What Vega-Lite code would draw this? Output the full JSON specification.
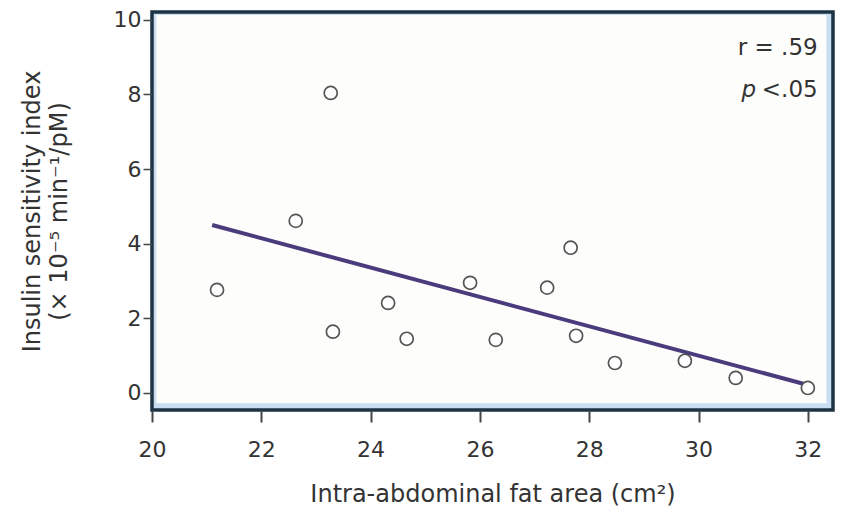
{
  "$schema": "https://vega.github.io/schema/vega-lite/v6.json",
  "width": 681,
  "height": 398,
  "autosize": "none",
  "padding": {"left": 152, "top": 12, "right": 22, "bottom": 100},
  "background": "white",
  "config": {
    "font": "DejaVu Sans",
    "view": {"stroke": "#1c3344", "strokeWidth": 3.5, "fill": "#c9def0"},
    "axis": {"grid": false, "domain": false, "labelFlush": false, "labelFont": "DejaVu Sans", "titleFont": "DejaVu Sans", "labelColor": "#333", "titleColor": "#333", "tickColor": "#444", "labelFontSize": 22, "titleFontSize": 24, "titleFontWeight": "normal"}
  },
  "datasets": {
    "points": [
      {"area": 21.19, "isi": 2.76},
      {"area": 22.63, "isi": 4.61},
      {"area": 23.27, "isi": 8.04},
      {"area": 23.31, "isi": 1.64},
      {"area": 24.32, "isi": 2.41},
      {"area": 24.66, "isi": 1.45},
      {"area": 25.82, "isi": 2.95},
      {"area": 26.29, "isi": 1.42},
      {"area": 27.23, "isi": 2.82},
      {"area": 27.66, "isi": 3.89},
      {"area": 27.76, "isi": 1.53},
      {"area": 28.47, "isi": 0.80},
      {"area": 29.75, "isi": 0.86},
      {"area": 30.68, "isi": 0.40},
      {"area": 32.0, "isi": 0.13}
    ],
    "fit": [
      {"area": 21.1, "isi": 4.50},
      {"area": 32.0, "isi": 0.21}
    ],
    "panel": [
      {"x1": 20.08, "x2": 32.34, "y1": -0.28, "y2": 10.13}
    ],
    "notes_r": [
      {"x": 32.18, "y": 9.24, "t": "r = .59"},
      {"x": 32.18, "y": 8.12, "t": "<.05"}
    ],
    "notes_p": [
      {"x": 30.92, "y": 8.12, "t": "p"}
    ]
  },
  "layer": [
    {
      "data": {"name": "panel"},
      "mark": {"type": "rect", "fill": "#fdfdfb"},
      "encoding": {
        "x": {"field": "x1", "type": "quantitative", "scale": {"domain": [20, 32.46], "nice": false, "zero": false}, "axis": {"values": [20, 22, 24, 26, 28, 30, 32], "format": "d", "tickSize": 12, "tickWidth": 2, "labelPadding": 17, "title": "Intra-abdominal fat area (cm²)", "titlePadding": 22}},
        "x2": {"field": "x2"},
        "y": {"field": "y1", "type": "quantitative", "scale": {"domain": [-0.46, 10.21], "nice": false, "zero": false}, "axis": {"values": [0, 2, 4, 6, 8, 10], "format": "d", "tickSize": 9, "tickWidth": 1.5, "labelPadding": 2, "title": ["Insulin sensitivity index", "(× 10⁻⁵ min⁻¹/pM)"], "titlePadding": 42, "titleLineHeight": 27}},
        "y2": {"field": "y2"}
      }
    },
    {
      "data": {"name": "fit"},
      "mark": {"type": "line", "color": "#4a3b7c", "strokeWidth": 4},
      "encoding": {
        "x": {"field": "area", "type": "quantitative"},
        "y": {"field": "isi", "type": "quantitative"}
      }
    },
    {
      "data": {"name": "points"},
      "mark": {"type": "point", "shape": "circle", "size": 170, "fill": "white", "filled": false, "stroke": "#555", "strokeWidth": 1.7, "opacity": 1, "fillOpacity": 1},
      "encoding": {
        "x": {"field": "area", "type": "quantitative"},
        "y": {"field": "isi", "type": "quantitative"}
      }
    },
    {
      "data": {"name": "notes_r"},
      "mark": {"type": "text", "fontSize": 23, "color": "#333", "baseline": "middle", "align": "right", "font": "DejaVu Sans"},
      "encoding": {
        "x": {"field": "x", "type": "quantitative"},
        "y": {"field": "y", "type": "quantitative"},
        "text": {"field": "t"}
      }
    },
    {
      "data": {"name": "notes_p"},
      "mark": {"type": "text", "fontSize": 23, "color": "#333", "baseline": "middle", "align": "center", "fontStyle": "italic", "font": "DejaVu Sans"},
      "encoding": {
        "x": {"field": "x", "type": "quantitative"},
        "y": {"field": "y", "type": "quantitative"},
        "text": {"field": "t"}
      }
    }
  ]
}
